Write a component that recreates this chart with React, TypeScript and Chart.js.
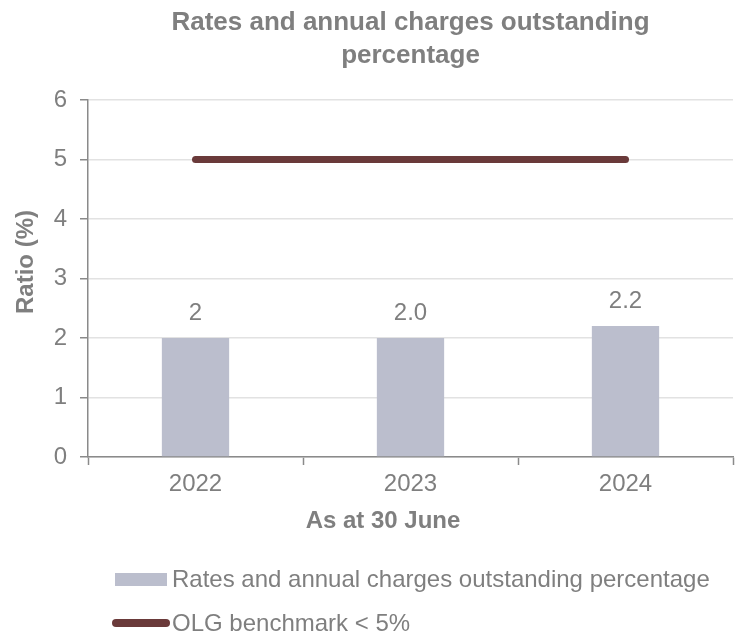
import React, { useEffect, useRef } from "react";
import { Chart, registerables } from "chart.js";

Chart.register(...registerables);

const years = ["2022", "2023", "2024"];
const outstandingPct = [2.0, 2.0, 2.2];
const outstandingLabels = ["2", "2.0", "2.2"];
const benchmarkPct = [5, 5, 5];
const seriesNames = ["Rates and annual charges outstanding percentage", "OLG benchmark < 5%"];
const chartTitle = ["Rates and annual charges outstanding", "percentage"];
const yAxisTitle = "Ratio (%)";
const xAxisTitle = "As at 30 June";
const yMin = 0;
const yMax = 6;
const yStep = 1;

const FONT = '"Liberation Sans", Arial, sans-serif';
const TEXT = "#7F7F7F";
const BAR = "#BBBECD";
const LINE = "#6A3A3A";
const GRID = "#E2E2E2";
const AXIS = "#8A8A8A";

const barLabelPlugin = {
  id: "barLabels",
  afterDatasetsDraw(chart: any) {
    const meta = chart.getDatasetMeta(1);
    const ctx = chart.ctx;
    ctx.save();
    ctx.font = `24px ${FONT}`;
    ctx.fillStyle = TEXT;
    ctx.textAlign = "center";
    ctx.textBaseline = "middle";
    meta.data.forEach((el: any, i: number) => {
      ctx.fillText(outstandingLabels[i], el.x, el.y - 25);
    });
    ctx.restore();
  },
};

export default function App() {
  const ref = useRef<HTMLCanvasElement | null>(null);

  useEffect(() => {
    document.body.style.margin = "0";
    if (!ref.current) return;
    const chart = new Chart(ref.current, {
      type: "bar",
      data: {
        labels: years,
        datasets: [
          {
            type: "line",
            label: seriesNames[1],
            data: benchmarkPct,
            borderColor: LINE,
            backgroundColor: LINE,
            borderWidth: 7,
            borderCapStyle: "round",
            pointRadius: 0,
            pointHoverRadius: 0,
            order: 0,
          } as any,
          {
            type: "bar",
            label: seriesNames[0],
            data: outstandingPct,
            backgroundColor: BAR,
            borderWidth: 0,
            categoryPercentage: 1,
            barPercentage: 0.313,
            order: 1,
          },
        ],
      },
      options: {
        animation: false,
        responsive: false,
        maintainAspectRatio: false,
        devicePixelRatio: 1,
        layout: { padding: { left: 0, right: 2, top: 0, bottom: 118 } },
        plugins: {
          legend: { display: false },
          tooltip: { enabled: false },
          title: {
            display: true,
            fullSize: false,
            text: chartTitle,
            color: TEXT,
            font: { family: FONT, size: 26, weight: "bold", lineHeight: 1.28 },
            padding: { top: 6, bottom: 27.4 },
          },
        },
        scales: {
          x: {
            offset: true,
            grid: {
              offset: true,
              drawOnChartArea: false,
              drawTicks: true,
              tickLength: 8,
              tickColor: AXIS,
              tickWidth: 1.5,
            },
            border: { display: true, color: AXIS, width: 1.5 },
            ticks: { color: TEXT, font: { family: FONT, size: 24 }, padding: 5 },
            title: { display: false },
            afterFit: (s: any) => {
              s.height = 60;
            },
          },
          y: {
            min: yMin,
            max: yMax,
            ticks: { stepSize: yStep, color: TEXT, font: { family: FONT, size: 24 }, padding: 13 },
            grid: {
              color: GRID,
              lineWidth: 1.5,
              drawTicks: true,
              tickLength: 8,
              tickColor: AXIS,
              tickWidth: 1.5,
            },
            border: { display: true, color: AXIS, width: 1.5 },
            title: { display: false },
            afterFit: (s: any) => {
              s.width = 88;
            },
          },
        },
      },
      plugins: [barLabelPlugin],
    });
    return () => chart.destroy();
  }, []);

  const textStyle: React.CSSProperties = {
    fontFamily: FONT,
    fontSize: 24,
    lineHeight: "24px",
    color: TEXT,
    whiteSpace: "nowrap",
  };

  return (
    <div style={{ position: "relative", width: 735, height: 635, overflow: "hidden" }}>
      <canvas ref={ref} width={735} height={635} style={{ display: "block", width: 735, height: 635 }} />
      <div
        style={{
          ...textStyle,
          position: "absolute",
          left: 25,
          top: 262,
          fontWeight: "bold",
          transform: "translate(-50%, -50%) rotate(-90deg)",
        }}
      >
        {yAxisTitle}
      </div>
      <div
        style={{
          ...textStyle,
          position: "absolute",
          left: 0,
          width: 766,
          top: 508,
          textAlign: "center",
          fontWeight: "bold",
        }}
      >
        {xAxisTitle}
      </div>
      <div style={{ position: "absolute", left: 112, top: 567, height: 24, display: "flex", alignItems: "center" }}>
        <div style={{ width: 52, height: 13, background: BAR, marginLeft: 3, marginRight: 5 }} />
        <span style={textStyle}>{seriesNames[0]}</span>
      </div>
      <div style={{ position: "absolute", left: 112, top: 611, height: 24, display: "flex", alignItems: "center" }}>
        <div style={{ width: 58, height: 8, borderRadius: 4, background: LINE, marginRight: 2 }} />
        <span style={textStyle}>{seriesNames[1]}</span>
      </div>
    </div>
  );
}
